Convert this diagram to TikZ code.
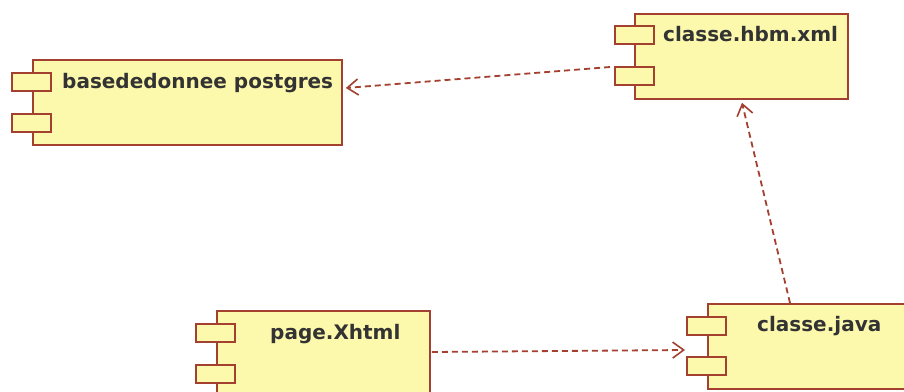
\documentclass[tikz,border=0pt]{standalone}
\usepackage{fontspec}
\setmainfont{DejaVu Sans}
\usetikzlibrary{arrows.meta,calc}
\definecolor{compfill}{HTML}{FCF9AC}
\definecolor{compline}{HTML}{A3402F}
\definecolor{comptext}{HTML}{333333}
\begin{document}
\begin{tikzpicture}[x=1pt,y=-1pt,
  component/.style={draw=compline,fill=compfill,line width=1.8pt,rectangle,
    anchor=north west,inner sep=0pt,minimum height=85pt},
  port/.style={draw=compline,fill=compfill,line width=1.8pt,rectangle,
    anchor=north west,inner sep=0pt,minimum width=39pt,minimum height=18pt},
  label/.style={anchor=base west,inner sep=0pt,text=comptext,
    font=\bfseries\fontsize{20}{24}\selectfont},
  dep/.style={draw=compline,line width=1.8pt,dash pattern=on 6pt off 4pt,
    -{Straight Barb[length=11pt,width=16pt,line width=1.6pt]}}]
\useasboundingbox (0,0) rectangle (904,391);
\clip (0,0) rectangle (904,391);
\fill[white] (0,0) rectangle (904,391);

% basededonnee postgres
\node[component,minimum width=309pt] (db) at (32,59) {};
\node[port] (dbp1) at (11,72) {};
\node[port] (dbp2) at (11,113) {};
\node[label] (dbl) at (62,88) {basededonnee postgres};

% classe.hbm.xml
\node[component,minimum width=213pt] (hbm) at (634,13) {};
\node[port] (hbmp1) at (614,25) {};
\node[port] (hbmp2) at (614,66) {};
\node[label] (hbml) at (663,41) {classe.hbm.xml};

% page.Xhtml
\node[component,minimum width=213pt] (page) at (216,310) {};
\node[port] (pagep1) at (195,323) {};
\node[port] (pagep2) at (195,364) {};
\node[label] (pagel) at (270,339) {page.Xhtml};

% classe.java
\node[component,minimum width=213pt] (java) at (707,303) {};
\node[port] (javap1) at (686,316) {};
\node[port] (javap2) at (686,356) {};
\node[label] (javal) at (757,331) {classe.java};

% dependency end points
\coordinate (hbmout) at ($(hbmp2.north west)+(-4,1)$);
\coordinate (dbin) at ($(db.north east)+(3,29)$);
\coordinate (pageout) at ($(page.north east)+(1,42)$);
\coordinate (javain) at ($(java.north west)+(-22,47)$);
\coordinate (javaout) at ($(java.north west)+(83,0)$);
\coordinate (hbmin) at ($(hbm.south west)+(108,3)$);

\draw[dep] (hbmout) -- (dbin);
\draw[dep] (pageout) -- (javain);
\draw[dep] (javaout) -- (hbmin);
\end{tikzpicture}
\end{document}
